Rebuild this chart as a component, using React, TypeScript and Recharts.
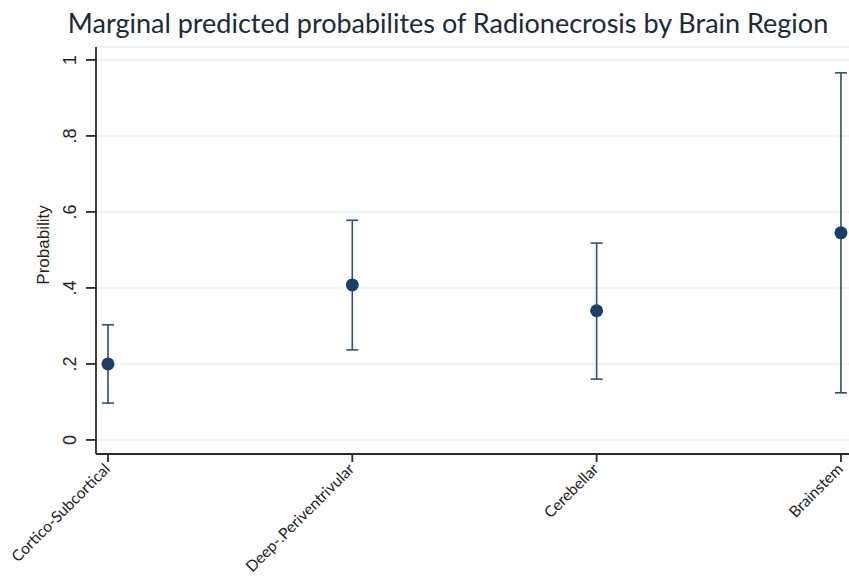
import { ScatterChart, Scatter, XAxis, YAxis, CartesianGrid, ErrorBar } from "recharts";

// regions in plot order
const regions = ["Cortico-Subcortical", "Deep-.Periventrivular", "Cerebellar", "Brainstem"];
const probability = [0.2, 0.408, 0.34, 0.545];
const ciLower = [0.097, 0.237, 0.16, 0.124];
const ciUpper = [0.303, 0.578, 0.518, 0.966];
const yTicks = [0, 0.2, 0.4, 0.6, 0.8, 1];

const NAVY = "#1b3f66";
const BAR = "#31506f";

const rows = regions.map((name, i) => ({
  idx: i + 1,
  name,
  p: probability[i],
  err: [probability[i] - ciLower[i], ciUpper[i] - probability[i]],
}));

const fmtY = (v: number) => (v === 0 ? "0" : v === 1 ? "1" : String(v).replace(/^0/, ""));

function YTick(props: any) {
  const { y, payload } = props;
  const x = 76;
  return (
    <text
      x={x}
      y={y}
      transform={`rotate(-90, ${x}, ${y})`}
      textAnchor="middle"
      fontFamily="Liberation Sans, Arial, sans-serif"
      fontSize={18}
      fill="#222"
    >
      {fmtY(payload.value)}
    </text>
  );
}

function XTick(props: any) {
  const { x, y, payload } = props;
  const ax = x + 3;
  const ay = y + 6;
  return (
    <text
      x={ax}
      y={ay}
      transform={`rotate(-45, ${ax}, ${ay})`}
      textAnchor="end"
      fontFamily="Lato, sans-serif"
      fontSize={15.5}
      fill="#222"
    >
      {regions[payload.value - 1]}
    </text>
  );
}

function Dot(props: any) {
  const { cx, cy } = props;
  return <circle cx={cx} cy={cy} r={6.5} fill={NAVY} />;
}

export default function App() {
  return (
    <div style={{ position: "absolute", left: 0, top: 0, width: 849, height: 579, background: "#fff" }}>
      <ScatterChart width={849} height={579} margin={{ top: 47, right: 0, bottom: 0, left: 0 }}>
        <CartesianGrid horizontal vertical={false} stroke="#e9efef" strokeWidth={1.5} />
        <XAxis
          type="number"
          dataKey="idx"
          domain={[0.951, 4.033]}
          ticks={[1, 2, 3, 4]}
          tick={<XTick />}
          tickSize={8}
          height={125}
          stroke="#2a2a2a"
          strokeWidth={1.8}
          allowDataOverflow
        />
        <YAxis
          type="number"
          dataKey="p"
          domain={[-0.037, 1.034]}
          ticks={yTicks}
          tick={<YTick />}
          tickSize={10}
          width={96}
          stroke="#2a2a2a"
          strokeWidth={1.8}
          allowDataOverflow
        />
        <Scatter data={rows} fill={NAVY} shape={<Dot />} isAnimationActive={false}>
          <ErrorBar dataKey="err" direction="y" width={6} stroke={BAR} strokeWidth={1.6} isAnimationActive={false} />
        </Scatter>
        <text
          x={49}
          y={245}
          transform="rotate(-90, 49, 245)"
          textAnchor="middle"
          fontFamily="Liberation Sans, Arial, sans-serif"
          fontSize={17}
          fill="#222"
        >
          Probability
        </text>
        <text x={448} y={33} textAnchor="middle" fontFamily="Lato, sans-serif" fontSize={27} fill="#1c2a3a">
          Marginal predicted probabilites of Radionecrosis by Brain Region
        </text>
      </ScatterChart>
    </div>
  );
}
